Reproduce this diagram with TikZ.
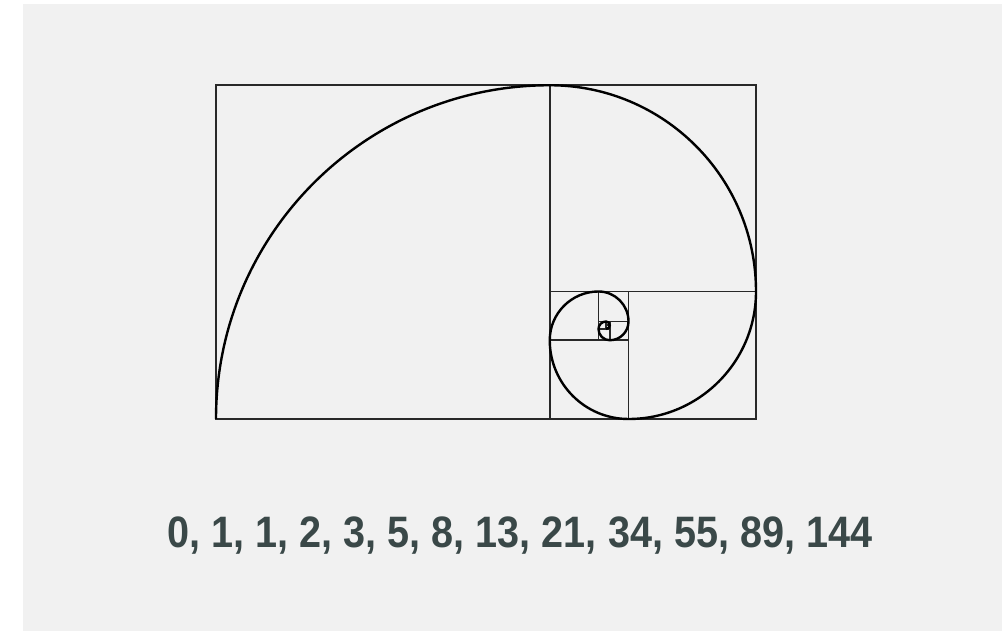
\documentclass[tikz,border=0pt]{standalone}
\usepackage{fontspec}
\usepackage{xcolor}
\usepackage{tikz}
\newfontfamily\seqfont[FakeStretch=0.9]{Liberation Sans}
\definecolor{pagegray}{RGB}{241,241,241}
\definecolor{gridline}{RGB}{40,40,40}
\definecolor{seqtext}{RGB}{58,72,72}

\begin{document}
\begin{tikzpicture}[
  x=1pt,y=1pt,
  sq/.style={draw=gridline,line width=1.6pt},
  spiral/.style={draw=black,line width=2.4pt},
  seq/.style={font=\seqfont\bfseries\fontsize{44}{48}\selectfont,text=seqtext,
              anchor=base,inner sep=0pt}
]
\useasboundingbox (0,0) rectangle (1007,631);
\fill[white] (0,0) rectangle (1007,631);
\fill[pagegray] (23,0) rectangle (1002,627);

% golden rectangle, one unit = 3.75pt
\begin{scope}[shift={(216,212)},x=3.75pt,y=3.75pt]
  \draw[sq] (0,0) rectangle (144,89);
  \draw[sq] (89,0) -- (89,89);
  \draw[sq] (89,34) -- (144,34);
  \draw[sq] (110,0) -- (110,34);
  \draw[sq] (89,21) -- (110,21);
  \draw[sq] (102,21) -- (102,34);
  \draw[sq] (102,26) -- (110,26);
  \draw[sq] (105,21) -- (105,26);
  \draw[sq] (102,24) -- (105,24);
  \draw[sq] (104,24) -- (104,26);
  \draw[sq] (104,25) -- (105,25);
  \coordinate (start) at (0,0);
  \draw[spiral] (start) \foreach \r [count=\i] in {89,55,34,21,13,8,5,3,2,1,1}
    { arc[start angle={270-90*\i}, delta angle=-90, radius=\r] };
\end{scope}

\node[seq] (fib) at (520,83) {0, 1, 1, 2, 3, 5, 8, 13, 21, 34, 55, 89, 144};
\end{tikzpicture}
\end{document}
